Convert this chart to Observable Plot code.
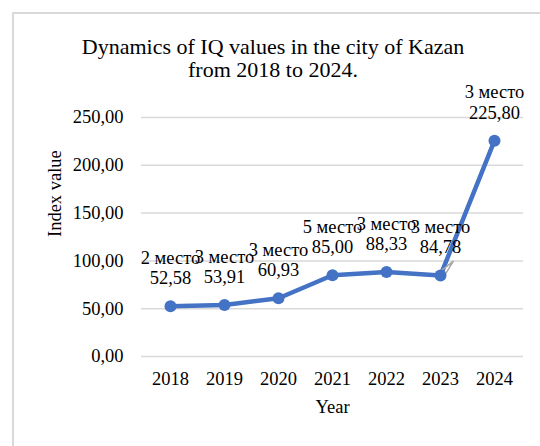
<!DOCTYPE html>
<html>
<head>
<meta charset="utf-8">
<script src="https://cdn.jsdelivr.net/npm/d3@7"></script>
<script src="https://cdn.jsdelivr.net/npm/@observablehq/plot@0.6"></script>
<style>
  html, body { margin: 0; padding: 0; background: #fff; }
  body { width: 540px; height: 446px; position: relative; overflow: hidden; font-family: "Liberation Serif", "Times New Roman", serif; }
  #frame { position: absolute; left: 12px; top: 12px; width: 600px; height: 500px; border-top: 2px solid #d9d9d9; border-left: 2px solid #d9d9d9; }
  #title { position: absolute; left: 0; width: 546px; top: 35px; text-align: center; font-size: 22px; line-height: 23px; color: #000; }
  #chart { position: absolute; left: 0; top: 0; }
</style>
</head>
<body>
<div id="frame"></div>
<div id="chart"></div>
<div id="title">Dynamics of IQ values in the city of Kazan<br>from 2018 to 2024.</div>
<script>
const years = ["2018", "2019", "2020", "2021", "2022", "2023", "2024"];
const values = [52.58, 53.91, 60.93, 85.00, 88.33, 84.78, 225.80];
const ranks = ["2 место", "3 место", "3 место", "5 место", "3 место", "3 место", "3 место"];
const yTicks = [0, 50, 100, 150, 200, 250];
const leaderYears = ["2023"];

const data = years.map((y, i) => ({year: y, value: values[i], rank: ranks[i]}));
const fmt = v => v.toFixed(2).replace(".", ",");
const blue = "#4472C4";
const fontSize = 18.5;

const chart = Plot.plot({
  width: 540,
  height: 446,
  marginLeft: 141,
  marginRight: 17,
  marginTop: 117,
  marginBottom: 90,
  style: {fontFamily: "'Liberation Serif', 'Times New Roman', serif", fontSize: fontSize + "px", color: "#000", background: "transparent"},
  x: {type: "point", domain: years, padding: 0.5},
  y: {domain: [0, 250]},
  marks: [
    Plot.gridY(yTicks, {stroke: "#d9d9d9", strokeOpacity: 1, strokeWidth: 1.5}),
    Plot.axisY(yTicks, {tickSize: 0, tickPadding: 18, tickFormat: fmt, label: null, fontSize: fontSize}),
    Plot.axisX({tickSize: 0, tickPadding: 15, label: null, fontSize: fontSize}),
    Plot.text(["Index value"], {frameAnchor: "left", dx: -86, rotate: -90, fontSize: fontSize, fill: "#000"}),
    Plot.text(["Year"], {frameAnchor: "bottom", dy: 56, fontSize: fontSize, fill: "#000"}),
    Plot.line(data, {x: "year", y: "value", stroke: blue, strokeWidth: 4.5}),
    Plot.vector(data.filter(d => leaderYears.includes(d.year)), {x: "year", y: "value", length: 19, rotate: 42, anchor: "start", shape: "spike", stroke: "#a6a6a6", strokeWidth: 1.5}),
    Plot.dot(data, {x: "year", y: "value", r: 6, fill: blue, stroke: null}),
    Plot.text(data, {x: "year", y: "value", text: d => d.rank + "\n" + fmt(d.value), lineAnchor: "bottom", lineHeight: 1.1, dy: -22, fontSize: fontSize, fill: "#000"})
  ]
});
document.getElementById("chart").appendChild(chart);
</script>
</body>
</html>
